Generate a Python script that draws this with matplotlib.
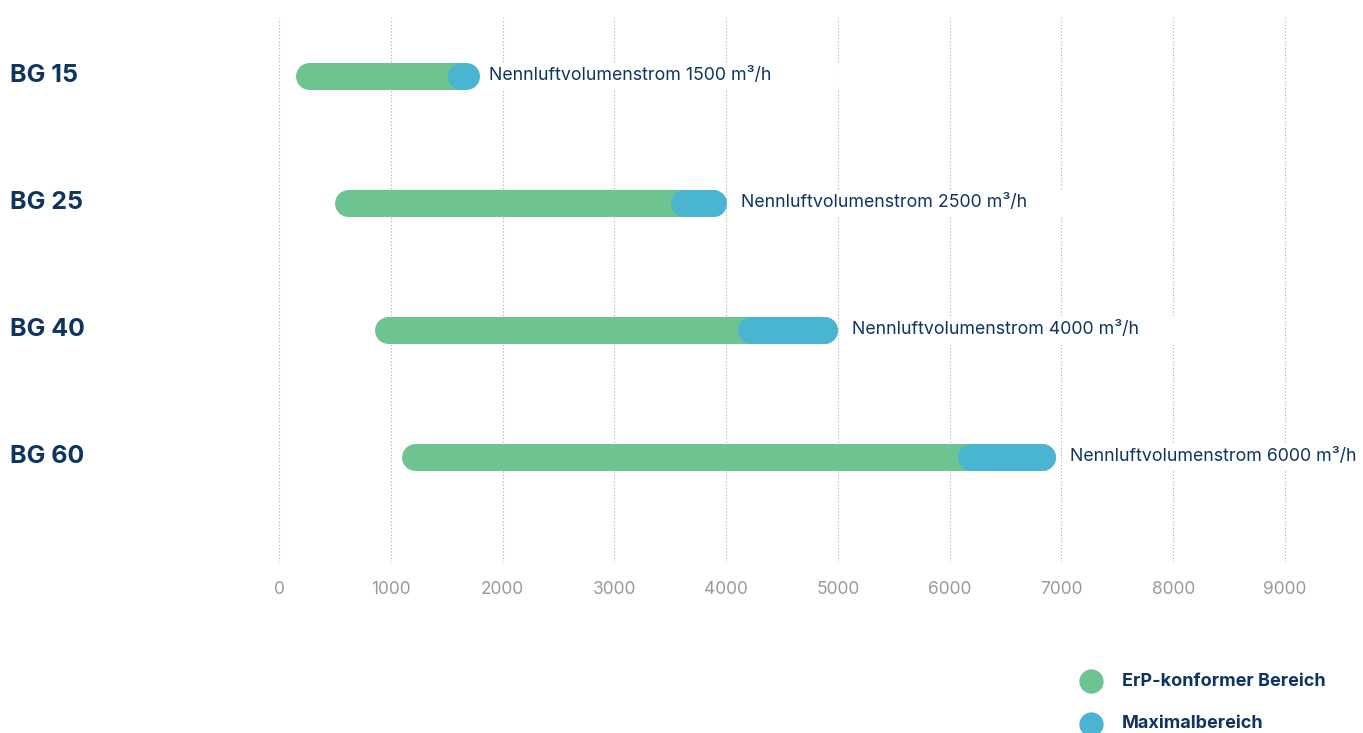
import matplotlib
matplotlib.use("Agg")
import matplotlib.pyplot as plt
from matplotlib.patches import Rectangle
from matplotlib.transforms import IdentityTransform, blended_transform_factory
from matplotlib.lines import Line2D

plt.rcParams["font.family"] = ["Inter", "DejaVu Sans"]

# Daten (m³/h)
baugroessen = ["BG 15", "BG 25", "BG 40", "BG 60"]
bereich_start = [150, 500, 850, 1100]
erp_ende = [1550, 3500, 4100, 6070]
max_ende = [1750, 4000, 5000, 6950]
nennvolumen = [1500, 2500, 4000, 6000]
x_ticks = [0, 1000, 2000, 3000, 4000, 5000, 6000, 7000, 8000, 9000]

GRUEN = "#6DC491"
BLAU = "#4AB5D0"
NAVY = "#0E3460"
GRAU = "#9a9a9a"

fig = plt.figure(figsize=(13.63, 7.33), dpi=100)
W, H = 1363, 733
x_max = 9100
px_unit = (1285 - 279) / 9000
ax = fig.add_axes([279 / W, 1 - 562 / H, px_unit * x_max / W, (562 - 18) / H])
ax.set_xlim(0, x_max)
ax.set_ylim(3.827, -0.453)
for s in ax.spines.values():
    s.set_visible(False)

ax.set_xticks(x_ticks)
ax.set_xticklabels([str(t) for t in x_ticks])
ax.tick_params(axis="x", length=0, pad=14, labelsize=12.5, labelcolor=GRAU)
ax.set_yticks([])
ax.set_axisbelow(True)
ax.grid(axis="x", color="#ababab", linewidth=0.8, linestyle=(0, (1, 2)))

# Balken als Kapseln: dicke Linien mit runden Enden
bar_px = 27
lw = bar_px * 72 / fig.dpi
px_per_unit = ax.transData.transform((1, 0))[0] - ax.transData.transform((0, 0))[0]
r = (bar_px / 2) / px_per_unit

texte = []
for i, name in enumerate(baugroessen):
    ax.plot([bereich_start[i] + r, max_ende[i] - r], [i, i], color=GRUEN,
            linewidth=lw, solid_capstyle="round", zorder=3)
    ax.plot([erp_ende[i] + r, max_ende[i] - r], [i, i], color=BLAU,
            linewidth=lw, solid_capstyle="round", zorder=4)
    t = ax.annotate(f"Nennluftvolumenstrom {nennvolumen[i]} m³/h",
                    xy=(max_ende[i], i), xytext=(10.5, 0), textcoords="offset points",
                    va="center", ha="left", fontsize=12.8, color=NAVY,
                    annotation_clip=False, zorder=5)
    texte.append(t)

trans = blended_transform_factory(fig.transFigure, ax.transData)
for i, name in enumerate(baugroessen):
    ax.text(10 / W, i, name, transform=trans, ha="left", va="center",
            fontsize=18, fontweight="bold", color=NAVY)

# weisse Hinterlegung hinter den Beschriftungen (unterbricht die Rasterlinien)
fig.canvas.draw()
renderer = fig.canvas.get_renderer()
for t in texte:
    bb = t.get_window_extent(renderer)
    cy = (bb.y0 + bb.y1) / 2
    ax.add_patch(Rectangle((bb.x0 - 8, cy - 13), bb.width + 75, 26,
                           transform=IdentityTransform(), facecolor="white",
                           edgecolor="none", zorder=1, clip_on=False))

# Legende
legende = [("ErP-konformer Bereich", GRUEN), ("Maximalbereich", BLAU)]
for k, (label, farbe) in enumerate(legende):
    y = 1 - (681 + k * 43) / H
    fig.add_artist(Line2D([1091 / W], [y], marker="o", markersize=16.5,
                          color=farbe, linestyle="none", transform=fig.transFigure))
    fig.text(1122 / W, y, label, ha="left", va="center", fontsize=13,
             fontweight="bold", color=NAVY)

fig.savefig("out.png", dpi=100)
